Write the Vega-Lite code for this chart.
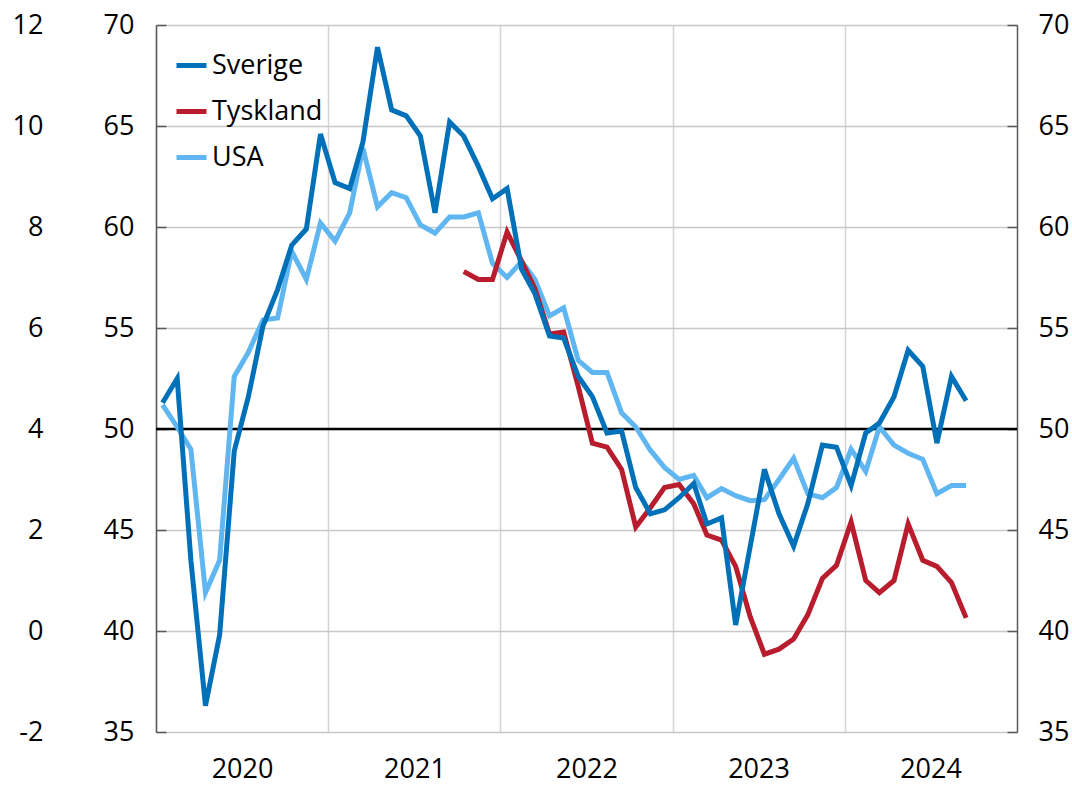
{
  "$schema": "https://vega.github.io/schema/vega-lite/v6.json",
  "width": 861,
  "height": 707,
  "autosize": {"type": "none"},
  "padding": {"left": 156, "top": 25, "right": 55, "bottom": 54},
  "background": "white",
  "config": {
    "font": "Open Sans",
    "view": {"stroke": null},
    "axis": {"labelFont": "Open Sans", "labelFontSize": 27, "labelColor": "#000000", "title": null}
  },
  "datasets": {
    "pmi": [
      {"d": "2020-01-15", "s": "USA", "v": 51.2}, {"d": "2020-02-15", "s": "USA", "v": 50.1}, {"d": "2020-03-15", "s": "USA", "v": 49.0}, {"d": "2020-04-15", "s": "USA", "v": 41.9}, {"d": "2020-05-15", "s": "USA", "v": 43.5}, {"d": "2020-06-15", "s": "USA", "v": 52.6}, {"d": "2020-07-15", "s": "USA", "v": 53.8}, {"d": "2020-08-15", "s": "USA", "v": 55.4}, {"d": "2020-09-15", "s": "USA", "v": 55.5}, {"d": "2020-10-15", "s": "USA", "v": 58.8}, {"d": "2020-11-15", "s": "USA", "v": 57.4}, {"d": "2020-12-15", "s": "USA", "v": 60.2},
      {"d": "2021-01-15", "s": "USA", "v": 59.3}, {"d": "2021-02-15", "s": "USA", "v": 60.7}, {"d": "2021-03-15", "s": "USA", "v": 63.9}, {"d": "2021-04-15", "s": "USA", "v": 61.0}, {"d": "2021-05-15", "s": "USA", "v": 61.7}, {"d": "2021-06-15", "s": "USA", "v": 61.45}, {"d": "2021-07-15", "s": "USA", "v": 60.1}, {"d": "2021-08-15", "s": "USA", "v": 59.7}, {"d": "2021-09-15", "s": "USA", "v": 60.5}, {"d": "2021-10-15", "s": "USA", "v": 60.5}, {"d": "2021-11-15", "s": "USA", "v": 60.7}, {"d": "2021-12-15", "s": "USA", "v": 58.2},
      {"d": "2022-01-15", "s": "USA", "v": 57.5}, {"d": "2022-02-15", "s": "USA", "v": 58.3}, {"d": "2022-03-15", "s": "USA", "v": 57.4}, {"d": "2022-04-15", "s": "USA", "v": 55.6}, {"d": "2022-05-15", "s": "USA", "v": 56.0}, {"d": "2022-06-15", "s": "USA", "v": 53.4}, {"d": "2022-07-15", "s": "USA", "v": 52.8}, {"d": "2022-08-15", "s": "USA", "v": 52.8}, {"d": "2022-09-15", "s": "USA", "v": 50.8}, {"d": "2022-10-15", "s": "USA", "v": 50.1}, {"d": "2022-11-15", "s": "USA", "v": 48.95}, {"d": "2022-12-15", "s": "USA", "v": 48.1},
      {"d": "2023-01-15", "s": "USA", "v": 47.5}, {"d": "2023-02-15", "s": "USA", "v": 47.7}, {"d": "2023-03-15", "s": "USA", "v": 46.6}, {"d": "2023-04-15", "s": "USA", "v": 47.05}, {"d": "2023-05-15", "s": "USA", "v": 46.7}, {"d": "2023-06-15", "s": "USA", "v": 46.45}, {"d": "2023-07-15", "s": "USA", "v": 46.5}, {"d": "2023-08-15", "s": "USA", "v": 47.5}, {"d": "2023-09-15", "s": "USA", "v": 48.55}, {"d": "2023-10-15", "s": "USA", "v": 46.8}, {"d": "2023-11-15", "s": "USA", "v": 46.6}, {"d": "2023-12-15", "s": "USA", "v": 47.1},
      {"d": "2024-01-15", "s": "USA", "v": 49.0}, {"d": "2024-02-15", "s": "USA", "v": 47.9}, {"d": "2024-03-15", "s": "USA", "v": 50.1}, {"d": "2024-04-15", "s": "USA", "v": 49.2}, {"d": "2024-05-15", "s": "USA", "v": 48.8}, {"d": "2024-06-15", "s": "USA", "v": 48.5}, {"d": "2024-07-15", "s": "USA", "v": 46.8}, {"d": "2024-08-15", "s": "USA", "v": 47.2}, {"d": "2024-09-15", "s": "USA", "v": 47.2},

      {"d": "2021-10-15", "s": "Tyskland", "v": 57.8}, {"d": "2021-11-15", "s": "Tyskland", "v": 57.4}, {"d": "2021-12-15", "s": "Tyskland", "v": 57.4},
      {"d": "2022-01-15", "s": "Tyskland", "v": 59.75}, {"d": "2022-02-15", "s": "Tyskland", "v": 58.3}, {"d": "2022-03-15", "s": "Tyskland", "v": 56.95}, {"d": "2022-04-15", "s": "Tyskland", "v": 54.7}, {"d": "2022-05-15", "s": "Tyskland", "v": 54.8}, {"d": "2022-06-15", "s": "Tyskland", "v": 52.1}, {"d": "2022-07-15", "s": "Tyskland", "v": 49.3}, {"d": "2022-08-15", "s": "Tyskland", "v": 49.1}, {"d": "2022-09-15", "s": "Tyskland", "v": 48.0}, {"d": "2022-10-15", "s": "Tyskland", "v": 45.15}, {"d": "2022-11-15", "s": "Tyskland", "v": 46.1}, {"d": "2022-12-15", "s": "Tyskland", "v": 47.1},
      {"d": "2023-01-15", "s": "Tyskland", "v": 47.25}, {"d": "2023-02-15", "s": "Tyskland", "v": 46.3}, {"d": "2023-03-15", "s": "Tyskland", "v": 44.75}, {"d": "2023-04-15", "s": "Tyskland", "v": 44.5}, {"d": "2023-05-15", "s": "Tyskland", "v": 43.2}, {"d": "2023-06-15", "s": "Tyskland", "v": 40.7}, {"d": "2023-07-15", "s": "Tyskland", "v": 38.85}, {"d": "2023-08-15", "s": "Tyskland", "v": 39.1}, {"d": "2023-09-15", "s": "Tyskland", "v": 39.6}, {"d": "2023-10-15", "s": "Tyskland", "v": 40.8}, {"d": "2023-11-15", "s": "Tyskland", "v": 42.6}, {"d": "2023-12-15", "s": "Tyskland", "v": 43.25},
      {"d": "2024-01-15", "s": "Tyskland", "v": 45.4}, {"d": "2024-02-15", "s": "Tyskland", "v": 42.5}, {"d": "2024-03-15", "s": "Tyskland", "v": 41.9}, {"d": "2024-04-15", "s": "Tyskland", "v": 42.5}, {"d": "2024-05-15", "s": "Tyskland", "v": 45.3}, {"d": "2024-06-15", "s": "Tyskland", "v": 43.5}, {"d": "2024-07-15", "s": "Tyskland", "v": 43.2}, {"d": "2024-08-15", "s": "Tyskland", "v": 42.4}, {"d": "2024-09-15", "s": "Tyskland", "v": 40.65},

      {"d": "2020-01-15", "s": "Sverige", "v": 51.3}, {"d": "2020-02-15", "s": "Sverige", "v": 52.5}, {"d": "2020-03-15", "s": "Sverige", "v": 43.5}, {"d": "2020-04-15", "s": "Sverige", "v": 36.3}, {"d": "2020-05-15", "s": "Sverige", "v": 39.8}, {"d": "2020-06-15", "s": "Sverige", "v": 48.9}, {"d": "2020-07-15", "s": "Sverige", "v": 51.6}, {"d": "2020-08-15", "s": "Sverige", "v": 55.1}, {"d": "2020-09-15", "s": "Sverige", "v": 56.9}, {"d": "2020-10-15", "s": "Sverige", "v": 59.1}, {"d": "2020-11-15", "s": "Sverige", "v": 59.9}, {"d": "2020-12-15", "s": "Sverige", "v": 64.6},
      {"d": "2021-01-15", "s": "Sverige", "v": 62.2}, {"d": "2021-02-15", "s": "Sverige", "v": 61.9}, {"d": "2021-03-15", "s": "Sverige", "v": 64.2}, {"d": "2021-04-15", "s": "Sverige", "v": 68.9}, {"d": "2021-05-15", "s": "Sverige", "v": 65.8}, {"d": "2021-06-15", "s": "Sverige", "v": 65.5}, {"d": "2021-07-15", "s": "Sverige", "v": 64.5}, {"d": "2021-08-15", "s": "Sverige", "v": 60.7}, {"d": "2021-09-15", "s": "Sverige", "v": 65.2}, {"d": "2021-10-15", "s": "Sverige", "v": 64.5}, {"d": "2021-11-15", "s": "Sverige", "v": 63.0}, {"d": "2021-12-15", "s": "Sverige", "v": 61.4},
      {"d": "2022-01-15", "s": "Sverige", "v": 61.9}, {"d": "2022-02-15", "s": "Sverige", "v": 57.9}, {"d": "2022-03-15", "s": "Sverige", "v": 56.7}, {"d": "2022-04-15", "s": "Sverige", "v": 54.6}, {"d": "2022-05-15", "s": "Sverige", "v": 54.5}, {"d": "2022-06-15", "s": "Sverige", "v": 52.6}, {"d": "2022-07-15", "s": "Sverige", "v": 51.6}, {"d": "2022-08-15", "s": "Sverige", "v": 49.8}, {"d": "2022-09-15", "s": "Sverige", "v": 49.9}, {"d": "2022-10-15", "s": "Sverige", "v": 47.1}, {"d": "2022-11-15", "s": "Sverige", "v": 45.8}, {"d": "2022-12-15", "s": "Sverige", "v": 46.0},
      {"d": "2023-01-15", "s": "Sverige", "v": 46.6}, {"d": "2023-02-15", "s": "Sverige", "v": 47.3}, {"d": "2023-03-15", "s": "Sverige", "v": 45.3}, {"d": "2023-04-15", "s": "Sverige", "v": 45.6}, {"d": "2023-05-15", "s": "Sverige", "v": 40.3}, {"d": "2023-06-15", "s": "Sverige", "v": 44.2}, {"d": "2023-07-15", "s": "Sverige", "v": 48.0}, {"d": "2023-08-15", "s": "Sverige", "v": 45.8}, {"d": "2023-09-15", "s": "Sverige", "v": 44.2}, {"d": "2023-10-15", "s": "Sverige", "v": 46.3}, {"d": "2023-11-15", "s": "Sverige", "v": 49.2}, {"d": "2023-12-15", "s": "Sverige", "v": 49.1},
      {"d": "2024-01-15", "s": "Sverige", "v": 47.2}, {"d": "2024-02-15", "s": "Sverige", "v": 49.8}, {"d": "2024-03-15", "s": "Sverige", "v": 50.3}, {"d": "2024-04-15", "s": "Sverige", "v": 51.6}, {"d": "2024-05-15", "s": "Sverige", "v": 53.9}, {"d": "2024-06-15", "s": "Sverige", "v": 53.1}, {"d": "2024-07-15", "s": "Sverige", "v": 49.3}, {"d": "2024-08-15", "s": "Sverige", "v": 52.6}, {"d": "2024-09-15", "s": "Sverige", "v": 51.4}
    ]
  },
  "layer": [
    {
      "data": {"values": [{}]},
      "mark": {"type": "rule", "color": "#000000", "strokeWidth": 2.5},
      "encoding": {
        "y": {
          "datum": 50, "type": "quantitative",
          "scale": {"domain": [35, 70]},
          "axis": {
            "orient": "right", "values": [35, 40, 45, 50, 55, 60, 65, 70],
            "grid": false, "domainColor": "#595959", "domainWidth": 1.5,
            "tickColor": "#595959", "tickSize": -10, "tickWidth": 1.5,
            "labelPadding": 31, "labelAlign": "left"
          }
        }
      }
    },
    {
      "data": {"values": [{}]},
      "mark": {"type": "rule", "opacity": 0},
      "encoding": {
        "y": {
          "datum": 50, "type": "quantitative",
          "scale": {"domain": [35, 70]},
          "axis": {
            "orient": "left", "values": [35, 40, 45, 50, 55, 60, 65, 70],
            "grid": false, "domain": false, "ticks": false,
            "labelPadding": 113, "labelExpr": "'' + ((datum.value - 40) * 2 / 5)"
          }
        }
      }
    },
    {
      "data": {"name": "pmi"},
      "mark": {"type": "line", "strokeWidth": 5},
      "encoding": {
        "x": {
          "field": "d", "type": "temporal",
          "scale": {"type": "utc", "domain": [{"year": 2020, "month": 1, "date": 1, "utc": true}, {"year": 2025, "month": 1, "date": 1, "utc": true}]},
          "axis": {
            "orient": "bottom",
            "values": [{"year": 2020, "month": 1, "date": 1, "utc": true}, {"year": 2021, "month": 1, "date": 1, "utc": true}, {"year": 2022, "month": 1, "date": 1, "utc": true}, {"year": 2023, "month": 1, "date": 1, "utc": true}, {"year": 2024, "month": 1, "date": 1, "utc": true}],
            "format": "%Y", "grid": true, "gridColor": "#d4d4d4", "gridWidth": 1.5,
            "domain": false, "ticks": false, "labelOffset": 86, "labelPadding": 24,
            "labelAlign": "center", "labelFlush": false, "labelOverlap": false
          }
        },
        "y": {
          "field": "v", "type": "quantitative",
          "scale": {"domain": [35, 70]},
          "axis": {
            "orient": "left", "values": [35, 40, 45, 50, 55, 60, 65, 70],
            "grid": true, "gridColor": "#c8c8c8", "gridWidth": 1.5,
            "domainColor": "#595959", "domainWidth": 1.5,
            "tickColor": "#595959", "tickSize": -10, "tickWidth": 1.5,
            "labelPadding": 32
          }
        },
        "color": {
          "field": "s", "type": "nominal",
          "scale": {"domain": ["Sverige", "Tyskland", "USA"], "range": ["#0071b9", "#b81d2e", "#60b6f0"]},
          "legend": {
            "title": null, "orient": "none", "legendX": 18, "legendY": 23,
            "symbolType": "stroke", "symbolSize": 900, "symbolStrokeWidth": 5,
            "labelFontSize": 27, "labelFont": "Open Sans", "labelColor": "#000000",
            "rowPadding": 15, "labelOffset": 3
          }
        }
      }
    }
  ],
  "resolve": {"axis": {"y": "independent"}}
}
